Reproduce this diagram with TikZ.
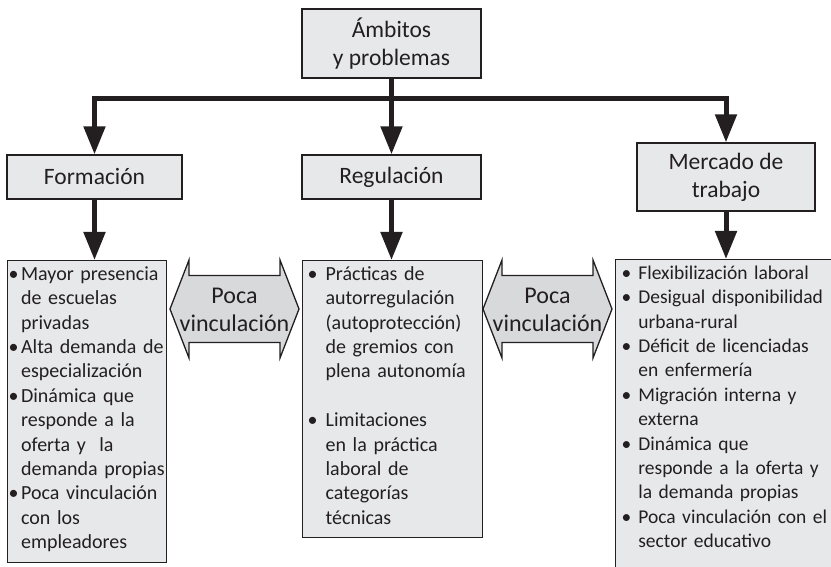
\documentclass[tikz,border=0pt]{standalone}
\usepackage{fontspec}
\setmainfont{Carlito}
\usepackage{xcolor}
\usetikzlibrary{arrows.meta}
\definecolor{ink}{RGB}{35,31,32}
\definecolor{boxgray}{RGB}{231,232,234}
\definecolor{arrgray}{RGB}{216,217,219}

\begin{document}
\begin{tikzpicture}[x=1pt, y=-1pt,
    titlebox/.style={draw=ink, fill=boxgray, line width=1.3pt, inner sep=0pt,
      align=center, text=ink, font=\fontsize{23.5}{28}\selectfont},
    listbox/.style={draw=ink, fill=boxgray, line width=1.3pt, anchor=north west,
      inner ysep=2.5pt, align=left, text=ink, font=\fontsize{20}{24.4}\selectfont},
    trunk/.style={draw=ink, line width=5pt},
    treearrow/.style={trunk, -{Triangle[length=28pt, width=21pt]}},
    linklabel/.style={align=center, inner sep=0pt, text=ink,
      font=\fontsize{24}{28}\selectfont},
    pics/linkarrow/.style={code={
      \draw[draw=ink, fill=arrgray, line width=1.3pt, line join=miter]
        (-64.5,0) -- ++(19,-49) -- ++(0,15.5) -- ++(91,0) -- ++(0,-15.5)
        -- ++(19,49) -- ++(-19,49) -- ++(0,-15.5) -- ++(-91,0) -- ++(0,15.5)
        -- cycle;}}]
  \useasboundingbox (0,0) rectangle (831,567);

  % top level
  \node[titlebox, minimum width=179pt, minimum height=69pt] (amb) at (391.5,43.5)
    {Ámbitos\\y problemas};

  \node[titlebox, minimum width=175pt, minimum height=44pt] (form) at (94.5,177) {Formación};
  \node[titlebox, minimum width=179pt, minimum height=44pt] (regu) at (391.5,177) {Regulación};
  \node[titlebox, minimum width=178pt, minimum height=68pt] (merc) at (726,177)
    {Mercado de\\trabajo};

  % lists
  \node[listbox, inner xsep=0pt, text width=159pt] (fbody) at (7,260) {%
    \begin{tabular}{@{\hspace{1pt}}l@{\hspace{2.5pt}}l@{}}
      \textbullet & Mayor presencia\\
                  & de escuelas\\
                  & privadas\\
      \textbullet & Alta demanda de\\
                  & especialización\\
      \textbullet & Dinámica que\\
                  & responde a la\\
                  & oferta y \ la\\
                  & demanda propias\\
      \textbullet & Poca vinculación\\
                  & con los\\
                  & empleadores\\[4pt]
    \end{tabular}};

  \node[listbox, inner xsep=5pt, text width=170pt] (rbody) at (302,260) {%
    \begin{tabular}{@{}l@{\hspace{8pt}}l@{}}
      \textbullet & Prácticas de\\
                  & autorregulación\\
                  & (autoprotección)\\
                  & de gremios con\\
                  & plena autonomía\\[24.4pt]
      \textbullet & Limitaciones\\
                  & en la práctica\\
                  & laboral de\\
                  & categorías\\
                  & técnicas\\[3.6pt]
    \end{tabular}};

  \node[listbox, inner xsep=6pt, text width=218pt,
        font=\fontsize{19.5}{24.4}\selectfont] (mbody) at (615,259) {%
    \begin{tabular}{@{}l@{\hspace{7pt}}l@{}}
      \textbullet & Flexibilización laboral\\
      \textbullet & Desigual disponibilidad\\
                  & urbana-rural\\
      \textbullet & Déficit de licenciadas\\
                  & en enfermería\\
      \textbullet & Migración interna y\\
                  & externa\\
      \textbullet & Dinámica que\\
                  & responde a la oferta y\\
                  & la demanda propias\\
      \textbullet & Poca vinculación con el\\
                  & sector educativo\\[24pt]
    \end{tabular}};

  % connectors
  \draw[treearrow] (amb.south) -- ++(0,20) -| (form.north);
  \draw[treearrow] (amb.south) -- (regu.north);
  \draw[treearrow] (amb.south) -- ++(0,20) -| (merc.north);

  \draw[treearrow] (form.south) -- (form.south |- fbody.north);
  \draw[treearrow] (regu.south) -- (regu.south |- rbody.north);
  \draw[treearrow] (merc.south) -- (merc.south |- mbody.north);

  % poca vinculacion
  \pic at (234.5,309) {linkarrow};
  \node[linklabel] (vinc1) at (234.5,310) {Poca\\vinculación};
  \pic at (547.5,309) {linkarrow};
  \node[linklabel] (vinc2) at (547.5,310) {Poca\\vinculación};
\end{tikzpicture}
\end{document}
